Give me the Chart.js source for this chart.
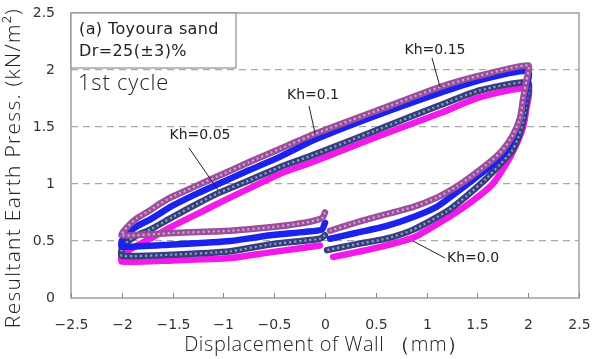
<!DOCTYPE html>
<html>
<head>
<meta charset="utf-8">
<script src="https://cdn.jsdelivr.net/npm/chart.js@4"></script>
<style>
  html, body { margin: 0; padding: 0; background: #fff; }
  #wrap { width: 593px; height: 359px; }
</style>
</head>
<body>
<div id="wrap"><canvas id="c" width="593" height="359"></canvas></div>
<script>
// tick values
const xTicks = [-2.5, -2, -1.5, -1, -0.5, 0, 0.5, 1, 1.5, 2, 2.5];
const yTicks = [0, 0.5, 1, 1.5, 2, 2.5];

// each loop: x=0 -> -2 (lower), -2 -> 2 (upper), 2 -> ~0 (lower right)
const kh015 = [
  [0, 0.75], [-0.03, 0.70], [-0.2, 0.66], [-0.54, 0.62], [-0.93, 0.59], [-1.5, 0.57], [-2, 0.55],
  [-1.95, 0.62], [-1.85, 0.70], [-1.72, 0.77], [-1.62, 0.83], [-1.5, 0.89], [-1.25, 0.99], [-1.05, 1.07],
  [-0.75, 1.19], [-0.44, 1.31], [-0.1, 1.44], [0.5, 1.64], [1.13, 1.85], [1.52, 1.95], [2, 2.04],
  [1.98, 1.90], [1.95, 1.75], [1.92, 1.58], [1.85, 1.43], [1.75, 1.30], [1.62, 1.19], [1.46, 1.08],
  [1.3, 0.98], [1.1, 0.88], [0.87, 0.80], [0.54, 0.72], [0.3, 0.66], [0.05, 0.59]
];
const kh010 = [
  [0, 0.66], [-0.03, 0.60], [-0.2, 0.58], [-0.54, 0.55], [-0.93, 0.50], [-1.5, 0.47], [-2, 0.45],
  [-2, 0.50], [-1.95, 0.56], [-1.85, 0.63], [-1.72, 0.69], [-1.5, 0.81], [-1.25, 0.92], [-1.05, 1.00],
  [-0.75, 1.12], [-0.44, 1.24], [-0.1, 1.39], [0.5, 1.60], [1.13, 1.80], [1.52, 1.91], [2, 1.99],
  [1.97, 1.80], [1.93, 1.60], [1.87, 1.45], [1.78, 1.29], [1.65, 1.17], [1.49, 1.06], [1.3, 0.93],
  [1.1, 0.80], [0.87, 0.71], [0.6, 0.63], [0.3, 0.57], [0.05, 0.52]
];
const kh005 = [
  [0, 0.55], [-0.05, 0.52], [-0.54, 0.47], [-0.93, 0.41], [-1.5, 0.38], [-2, 0.37],
  [-2, 0.43], [-1.95, 0.49], [-1.85, 0.55], [-1.72, 0.60], [-1.5, 0.71], [-1.25, 0.83], [-1.05, 0.92],
  [-0.75, 1.03], [-0.44, 1.15], [-0.1, 1.26], [0.5, 1.47], [1.13, 1.69], [1.52, 1.82], [2, 1.89],
  [1.98, 1.70], [1.95, 1.55], [1.9, 1.40], [1.84, 1.29], [1.72, 1.17], [1.59, 1.05], [1.4, 0.90],
  [1.2, 0.76], [0.87, 0.60], [0.6, 0.52], [0.3, 0.47], [0.02, 0.42]
];
const kh000 = [
  [-0.05, 0.46], [-0.54, 0.40], [-0.93, 0.35], [-1.5, 0.33], [-2, 0.32],
  [-2, 0.38], [-1.95, 0.41], [-1.85, 0.46], [-1.72, 0.52], [-1.5, 0.63], [-1.25, 0.74], [-1.05, 0.83],
  [-0.75, 0.96], [-0.44, 1.09], [-0.1, 1.20], [0.5, 1.41], [1.13, 1.62], [1.52, 1.76], [2, 1.84],
  [1.98, 1.65], [1.95, 1.50], [1.9, 1.38], [1.8, 1.20], [1.65, 1.00], [1.45, 0.85], [1.2, 0.70],
  [0.87, 0.53], [0.6, 0.46], [0.3, 0.40], [0.08, 0.36]
];

const toPts = arr => arr.map(p => ({ x: p[0], y: p[1] }));

function band(data, color, width) {
  return {
    data: toPts(data),
    showLine: true,
    borderColor: color,
    borderWidth: width,
    pointRadius: 0,
    tension: 0.2,
    borderJoinStyle: "round",
    borderCapStyle: "round"
  };
}
// speckle overlay imitating the open circle markers
function speckle(data, color) {
  return {
    data: toPts(data),
    showLine: true,
    borderColor: color,
    borderWidth: 2.2,
    borderDash: [2, 3],
    pointRadius: 0,
    tension: 0.2
  };
}

const fmtX = v => (v < 0 ? "\u2212" + Math.abs(v) : String(v));

const labelPlugin = {
  id: "labels",
  afterDraw(chart) {
    const ctx = chart.ctx;
    const a = chart.chartArea;
    const xs = chart.scales.x;
    const ys = chart.scales.y;
    ctx.save();

    // frame
    ctx.strokeStyle = "#a0a0a0";
    ctx.lineWidth = 1.5;
    ctx.strokeRect(a.left, a.top, a.right - a.left, a.bottom - a.top);

    // inward tick marks and tick labels
    ctx.lineWidth = 1;
    ctx.strokeStyle = "#888";
    ctx.fillStyle = "#333";
    ctx.font = "14px 'DejaVu Sans'";
    ctx.textAlign = "center";
    ctx.textBaseline = "middle";
    xTicks.forEach(v => {
      const px = Math.round(xs.getPixelForValue(v)) + 0.5;
      ctx.beginPath();
      ctx.moveTo(px, a.bottom);
      ctx.lineTo(px, a.bottom - 5);
      ctx.stroke();
      ctx.fillText(fmtX(v), px, 325);
    });
    ctx.textAlign = "right";
    yTicks.forEach(v => {
      ctx.fillText(String(v), 55, ys.getPixelForValue(v));
    });

    // info box
    ctx.fillStyle = "#fff";
    ctx.fillRect(a.left, a.top, 165, 55);
    ctx.strokeStyle = "#909090";
    ctx.lineWidth = 1.2;
    ctx.strokeRect(a.left, a.top, 165, 55);
    ctx.fillStyle = "#222";
    ctx.textAlign = "left";
    ctx.letterSpacing = "0.4px";
    ctx.font = "16px 'DejaVu Sans'";
    ctx.fillText("(a) Toyoura sand", 79, 30);
    ctx.fillText("Dr=25(\u00B13)%", 79, 52);
    ctx.letterSpacing = "0.8px";
    ctx.font = "300 22px 'Open Sans'";
    ctx.fillText("1st cycle", 78, 84);
    ctx.letterSpacing = "0px";

    // Kh callouts
    ctx.font = "14px 'DejaVu Sans'";
    ctx.fillStyle = "#222";
    ctx.textAlign = "center";
    ctx.fillText("Kh=0.15", 435, 50);
    ctx.fillText("Kh=0.1", 313, 95);
    ctx.fillText("Kh=0.05", 200, 135);
    ctx.textAlign = "left";
    ctx.fillText("Kh=0.0", 447, 258);
    ctx.strokeStyle = "#222";
    ctx.lineWidth = 1;
    [[432, 58, 440, 87], [309, 106, 315, 133], [189, 148, 218, 190], [445, 258, 413, 241]].forEach(l => {
      ctx.beginPath();
      ctx.moveTo(l[0], l[1]);
      ctx.lineTo(l[2], l[3]);
      ctx.stroke();
    });

    // axis titles
    ctx.fillStyle = "#222";
    ctx.textAlign = "center";
    ctx.letterSpacing = "0.6px";
    ctx.font = "300 20px 'Open Sans'";
    ctx.fillText("Displacement of Wall \uFF08mm\uFF09", 326, 345);
    ctx.translate(14, 168);
    ctx.rotate(-Math.PI / 2);
    ctx.letterSpacing = "1.3px";
    ctx.font = "300 21px 'Open Sans'";
    ctx.fillText("Resultant Earth Press. (kN/m\u00B2)", 0, 0);
    ctx.restore();
  }
};

new Chart(document.getElementById("c"), {
  type: "scatter",
  data: {
    // first dataset is drawn on top
    datasets: [
      speckle(kh015, "rgba(245,215,245,0.65)"),
      band(kh015, "#9a4f9c", 6.5),
      band(kh010, "#1c22ee", 6.5),
      speckle(kh005, "rgba(220,225,250,0.6)"),
      band(kh005, "#34407e", 6.5),
      band(kh000, "#f21ae8", 6.5)
    ]
  },
  options: {
    responsive: false,
    animation: false,
    layout: { padding: { top: 13, right: 14, left: 0, bottom: 0 } },
    plugins: { legend: { display: false }, tooltip: { enabled: false } },
    scales: {
      x: {
        type: "linear",
        min: -2.5,
        max: 2.5,
        afterFit: s => { s.height = 61; },
        afterBuildTicks: s => { s.ticks = xTicks.map(v => ({ value: v })); },
        grid: { display: false },
        border: { display: false },
        ticks: { display: false }
      },
      y: {
        min: 0,
        max: 2.5,
        afterFit: s => { s.width = 71; },
        afterBuildTicks: s => { s.ticks = yTicks.map(v => ({ value: v })); },
        grid: {
          drawTicks: false,
          color: ctx => (ctx.tick.value > 0 && ctx.tick.value < 2.5 ? "#a8a8a8" : "rgba(0,0,0,0)"),
          lineWidth: 1.2
        },
        border: { display: false, dash: [7, 5] },
        ticks: { display: false }
      }
    }
  },
  plugins: [labelPlugin]
});
</script>
</body>
</html>
